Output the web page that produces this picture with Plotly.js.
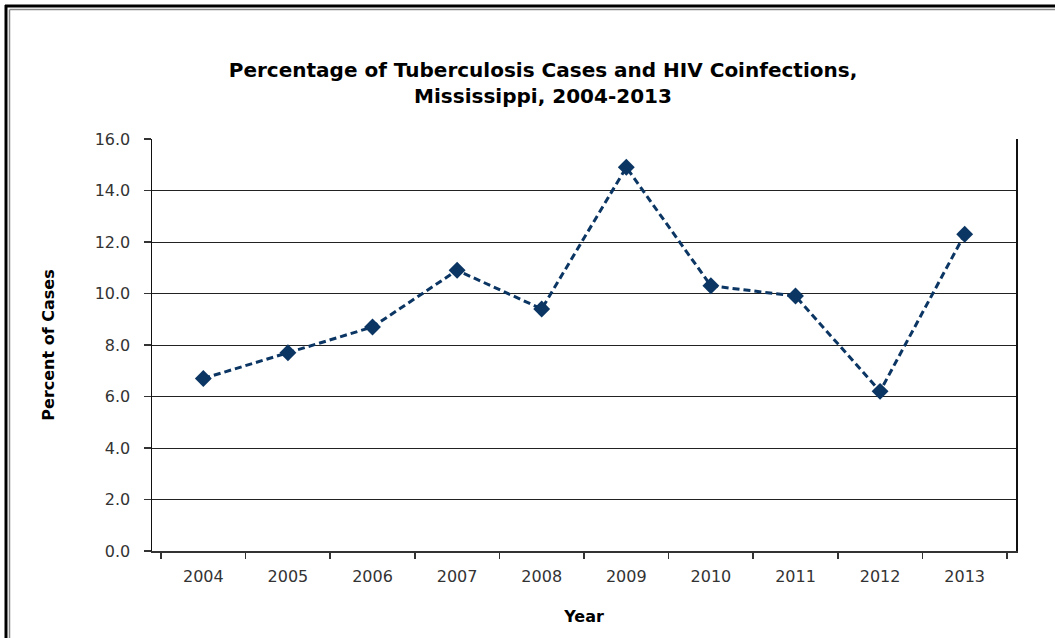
<!DOCTYPE html>
<html>
<head>
<meta charset="utf-8">
<script src="https://cdn.plot.ly/plotly-3.0.1.min.js"></script>
<style>html,body{margin:0;padding:0;background:#fff;}#chart{width:1055px;height:638px;}</style>
</head>
<body>
<div id="chart"></div>
<script>
const years = ['2004','2005','2006','2007','2008','2009','2010','2011','2012','2013'];
const percentCoinfected = [6.7, 7.7, 8.7, 10.9, 9.4, 14.9, 10.3, 9.9, 6.2, 12.3];
const yTicks = [0, 2, 4, 6, 8, 10, 12, 14, 16];

const L = 152, R = 1016, T = 139, B = 551, W = 1055, H = 638;
const px2x = p => (p - L) / (R - L);
const py2y = p => (B - p) / (B - T);

const trace = {
  x: years, y: percentCoinfected, type: 'scatter', mode: 'lines+markers',
  line: {color: '#0b3563', width: 3, dash: '7px,4px'},
  marker: {symbol: 'diamond', size: 13, color: '#0b3563'},
  hoverinfo: 'x+y'
};

const layout = {
  width: W, height: H,
  margin: {l: L, r: W - R, t: T, b: H - B},
  paper_bgcolor: '#fff', plot_bgcolor: '#fff',
  showlegend: false,
  font: {family: 'DejaVu Sans, sans-serif', color: '#222'},
  title: {
    text: '<b>Percentage of Tuberculosis Cases and HIV Coinfections,<br>Mississippi, 2004-2013</b>',
    x: 543 / W, xref: 'container', xanchor: 'center',
    y: 1 - 77 / H, yref: 'container', yanchor: 'middle',
    font: {family: 'DejaVu Sans, sans-serif', size: 20, color: '#000'}
  },
  xaxis: {
    type: 'category', tickson: 'boundaries', ticks: 'outside', ticklen: 6,
    tickcolor: '#333', tickwidth: 1.5,
    showline: true, linecolor: '#333', linewidth: 2,
    showgrid: false, zeroline: false,
    ticklabelstandoff: 10,
    tickfont: {size: 16, color: '#333'},
    title: {text: '<b>Year</b>', standoff: 26, font: {size: 16, color: '#000'}}
  },
  yaxis: {
    range: [0, 16], tickvals: yTicks, tickformat: '.1f',
    ticks: 'outside', ticklen: 7, tickcolor: '#333', tickwidth: 1.5,
    showline: true, mirror: true, linecolor: '#111', linewidth: 1.5,
    showgrid: true, gridcolor: '#222', gridwidth: 1, zeroline: false,
    ticklabelstandoff: 10,
    tickfont: {size: 16, color: '#333'},
    title: {text: '<b>Percent of Cases</b>', standoff: 36, font: {size: 16, color: '#000'}}
  },
  shapes: [
    {type: 'line', xref: 'paper', yref: 'paper', x0: px2x(6), x1: px2x(6), y0: py2y(5), y1: py2y(H + 5), line: {color: '#000', width: 3}},
    {type: 'line', xref: 'paper', yref: 'paper', x0: px2x(5), x1: px2x(W + 5), y0: py2y(6), y1: py2y(6), line: {color: '#000', width: 3}},
    {type: 'line', xref: 'paper', yref: 'paper', x0: px2x(9.5), x1: px2x(9.5), y0: py2y(9.5), y1: py2y(H + 5), line: {color: '#888', width: 1.5}},
    {type: 'line', xref: 'paper', yref: 'paper', x0: px2x(9.5), x1: px2x(W + 5), y0: py2y(9.5), y1: py2y(9.5), line: {color: '#888', width: 1.5}}
  ]
};

Plotly.newPlot('chart', [trace], layout, {displayModeBar: false, staticPlot: true});
</script>
</body>
</html>
